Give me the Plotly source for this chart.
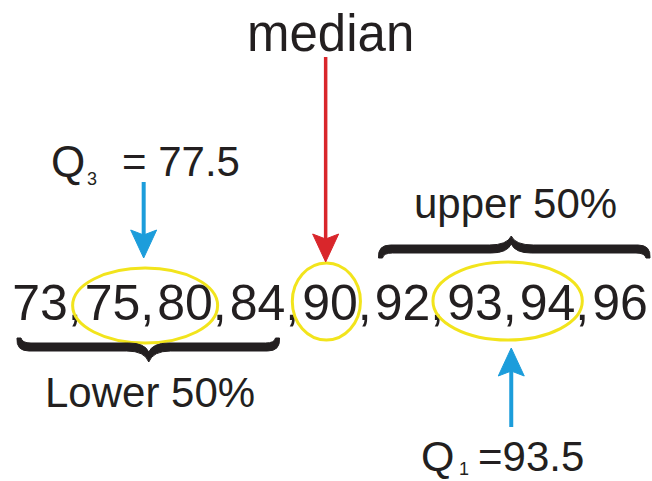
import plotly.graph_objects as go

# ---- data ----
values = [73, 75, 80, 84, 90, 92, 93, 94, 96]
median_label = "median"
q3_name, q3_sub, q3_value_text = "Q", "3", "= 77.5"
q1_name, q1_sub, q1_value_text = "Q", "1", "=93.5"
lower_label = "Lower 50%"
upper_label = "upper 50%"
q3_group = [1, 2]      # indices circled for Q3
median_group = [4]     # index circled for median
q1_group = [6, 7]      # indices circled for Q1
lower_half = [0, 3]
upper_half = [5, 8]

# ---- styles ----
FONT = "Arial, Liberation Sans, sans-serif"
INK = "#231f20"
YELLOW = "#f2e41c"
BLUE = "#1c9ddb"
RED = "#d9262b"
PX = 72.5            # pixels per index unit
X0 = 40              # pixel position of index 0
NUM_SIZE = 50

idx = list(range(len(values)))
ROW_Y = 307

px = lambda p: (p - X0) / PX          # pixel -> index units
pos = lambda i: X0 + PX * i           # index units -> pixel

# each number carries its trailing comma; shift so the digits stay centred
comma_shift = (0.278 * NUM_SIZE / 2) / PX
num_text = [f"{v}," if i < len(values) - 1 else str(v) for i, v in enumerate(values)]
num_x = [i + comma_shift if i < len(values) - 1 else i for i in idx]

fig = go.Figure()
fig.add_trace(go.Scatter(
    x=num_x, y=[ROW_Y] * len(values), mode="text",
    text=num_text,
    textfont=dict(family=FONT, size=NUM_SIZE, color=INK),
    textposition="middle center", hoverinfo="skip", showlegend=False))

shapes = []

def ellipse(group, half_w, y0, y1):
    c = sum(group) / len(group) - 0.05
    shapes.append(dict(type="circle", xref="x", yref="y",
                       x0=c - half_w, x1=c + half_w, y0=y0, y1=y1,
                       line=dict(color=YELLOW, width=3)))

ellipse(q3_group, 1.0, 268, 343)
ellipse(median_group, 0.47, 263, 340)
ellipse(q1_group, 1.03, 262, 340)


def arrow(xc, y_tail, y_tip, color, width):
    d = 1 if y_tip > y_tail else -1
    L = 28
    w = 13 / PX
    notch = 5
    shapes.append(dict(type="line", xref="x", yref="y",
                       x0=xc, x1=xc, y0=y_tail, y1=y_tip - d * (L - 6),
                       line=dict(color=color, width=width)))
    path = (f"M{xc},{y_tip} L{xc - w},{y_tip - d * L} "
            f"L{xc},{y_tip - d * (L - notch)} L{xc + w},{y_tip - d * L} Z")
    shapes.append(dict(type="path", xref="x", yref="y", path=path,
                       fillcolor=color, line=dict(color=color, width=1)))

arrow(1.43, 182, 258, BLUE, 4)
arrow(3.94, 57, 262, RED, 3.5)
arrow(6.5, 427, 348, BLUE, 4)


def brace(xl, xr, xc, yb, d, tip):
    """Filled curly brace; xl/xr/xc in pixels, d=+1 points down, -1 up."""
    o = yb + d * 4
    n = yb - d * 4
    e = yb - d * 9
    t = yb + d * tip
    X = lambda v: round(px(v), 4)
    pts = [
        f"M{X(xl)},{e}",
        f"Q{X(xl - 1)},{o} {X(xl + 12)},{o}",
        f"L{X(xc - 22)},{o}",
        f"Q{X(xc - 4)},{o} {X(xc)},{t}",
        f"Q{X(xc + 4)},{o} {X(xc + 22)},{o}",
        f"L{X(xr - 12)},{o}",
        f"Q{X(xr + 1)},{o} {X(xr)},{e}",
        f"L{X(xr - 4)},{e}",
        f"Q{X(xr - 5)},{n} {X(xr - 14)},{n}",
        f"L{X(xc + 20)},{n}",
        f"Q{X(xc + 4)},{n} {X(xc)},{yb + d * 5}",
        f"Q{X(xc - 4)},{n} {X(xc - 20)},{n}",
        f"L{X(xl + 14)},{n}",
        f"Q{X(xl + 5)},{n} {X(xl + 4)},{e}",
        "Z",
    ]
    shapes.append(dict(type="path", xref="x", yref="y", path=" ".join(pts),
                       fillcolor=INK, line=dict(color=INK, width=1)))

brace(pos(lower_half[0]) - 23, pos(lower_half[1]) + 22,
      pos((lower_half[0] + lower_half[1]) / 2), 347, 1, 15)
brace(pos(upper_half[0]) - 24, pos(upper_half[1]) + 30,
      pos((upper_half[0] + upper_half[1]) / 2), 249, -1, 13)

annotations = []

def label(text, x, y, size, xanchor="center"):
    annotations.append(dict(text=text, x=x, y=y, xref="x", yref="y",
                            showarrow=False, xanchor=xanchor, yanchor="middle",
                            borderpad=0,
                            font=dict(family=FONT, size=size, color=INK)))

label(median_label, px(330), 33, 51)
label(q3_name, px(50), 161, 44, "left")
label(q3_sub, px(86), 179, 18, "left")
label(q3_value_text, px(121), 161, 42, "left")
label(q1_name, px(420), 456, 43, "left")
label(q1_sub, px(458), 469, 18, "left")
label(q1_value_text, px(477), 456, 42, "left")
label(upper_label, px(515), 203, 42)
label(lower_label, px(150), 392, 42)

fig.update_layout(
    width=652, height=481,
    margin=dict(l=0, r=0, t=0, b=0),
    paper_bgcolor="white", plot_bgcolor="white",
    xaxis=dict(range=[px(0), px(652)], visible=False, fixedrange=True),
    yaxis=dict(range=[481, 0], visible=False, fixedrange=True),
    shapes=shapes, annotations=annotations, showlegend=False,
)
fig.write_html("out.html", config={"displayModeBar": False},
               post_script="document.body.style.margin='0';")
